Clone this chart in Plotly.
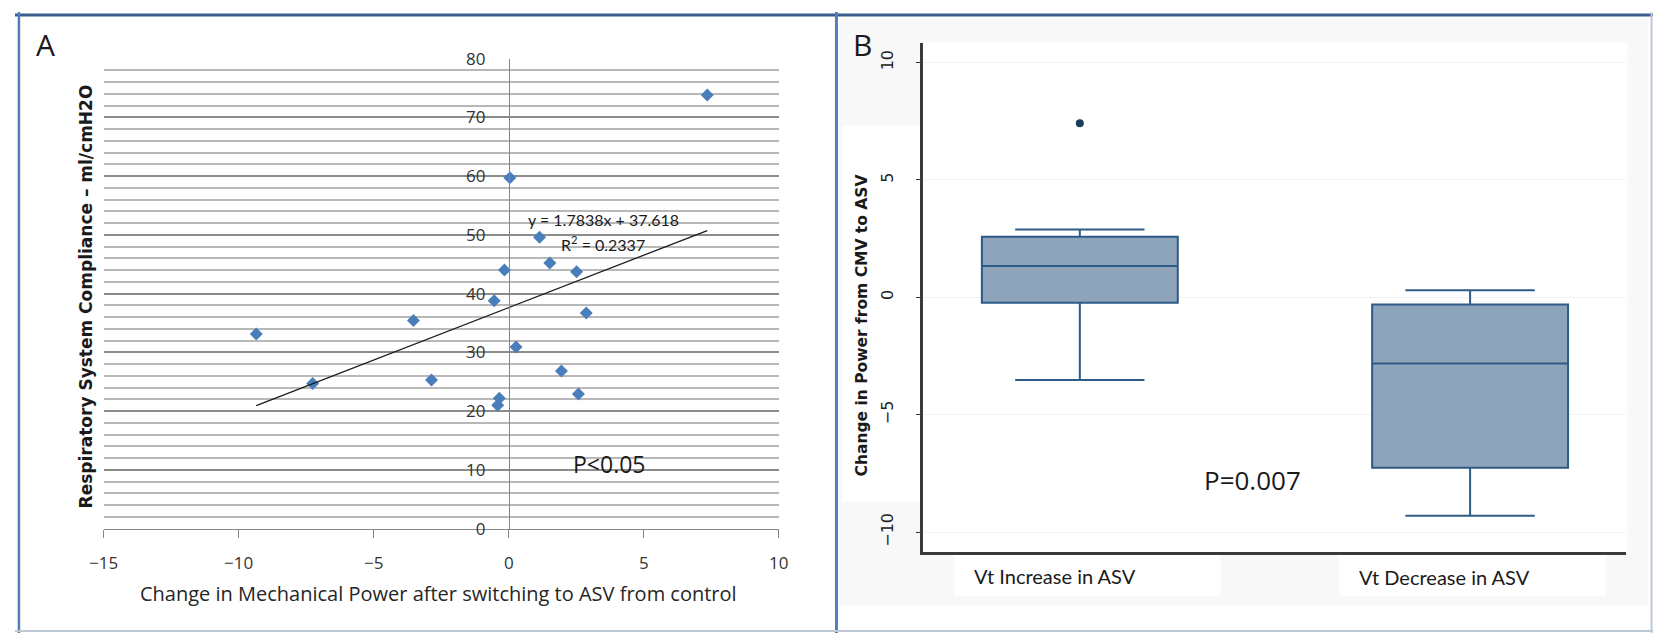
import plotly.graph_objects as go

# ---------------- Panel A data ----------------
power_change = [7.35, 0.04, 1.14, 1.52, -0.16, 2.51, -0.54, 2.87, -3.53, -9.35,
                0.27, 1.95, -7.26, -2.86, -0.35, -0.41, 2.58]
compliance = [73.8, 59.7, 49.6, 45.2, 44.0, 43.7, 38.8, 36.7, 35.4, 33.1,
              30.9, 26.8, 24.7, 25.3, 22.2, 21.0, 22.9]
trend_slope = 1.7838
trend_intercept = 37.618
r_squared = 0.2337
a_xticks = [-15, -10, -5, 0, 5, 10]
a_yticks = [0, 10, 20, 30, 40, 50, 60, 70, 80]

# ---------------- Panel B data ----------------
groups = ["Vt Increase in ASV", "Vt Decrease in ASV"]
group_pos = [1, 2]
q1 = [-0.23, -7.25]
median = [1.34, -2.81]
q3 = [2.58, -0.30]
lower_fence = [-3.52, -9.30]
upper_fence = [2.89, 0.30]
outlier_pos = [1]
outlier_val = [7.41]
b_yticks = [-10, -5, 0, 5, 10]

W, H = 1663, 644


def px(x):
    return x / W


def py(y):
    return 1 - y / H


fig = go.Figure()

# Panel A scatter
fig.add_trace(go.Scatter(
    x=power_change, y=compliance, mode="markers",
    marker=dict(symbol="diamond", size=10, color="#4A7EBB"),
    xaxis="x", yaxis="y", showlegend=False))

# trend line
tx = [min(power_change), max(power_change)]
ty = [trend_slope * v + trend_intercept for v in tx]
fig.add_trace(go.Scatter(
    x=tx, y=ty, mode="lines", line=dict(color="#1a1a1a", width=1.3),
    xaxis="x", yaxis="y", showlegend=False))

# Panel B boxes
fig.add_trace(go.Box(
    x=group_pos, q1=q1, median=median, q3=q3,
    lowerfence=lower_fence, upperfence=upper_fence,
    width=0.502, whiskerwidth=0.66, boxpoints=False,
    fillcolor="#8EA4BA", line=dict(color="#2E5A87", width=2),
    xaxis="x2", yaxis="y2", showlegend=False))

fig.add_trace(go.Scatter(
    x=outlier_pos, y=outlier_val, mode="markers",
    marker=dict(symbol="circle", size=8, color="#1E3C5E"),
    xaxis="x2", yaxis="y2", showlegend=False))

xa0, xa1 = px(90), px(775.5)
y_axis_pos = xa0 + (xa1 - xa0) * (0 - (-15)) / 25

lato = "Lato, 'Open Sans', sans-serif"
opens = "'Open Sans', Lato, sans-serif"
dejavu = "'DejaVu Sans', Verdana, sans-serif"

shapes = [
    # panel B background
    dict(type="rect", xref="paper", yref="paper", x0=px(837), x1=px(1658),
         y0=py(616), y1=py(6), fillcolor="#F8F8F8", line=dict(width=0), layer="below"),
    dict(type="rect", xref="paper", yref="paper", x0=px(921.4), x1=px(1637),
         y0=py(560), y1=py(31.7), fillcolor="#FFFFFF", line=dict(width=0), layer="below"),
    dict(type="rect", xref="paper", yref="paper", x0=px(840), x1=px(921.4),
         y0=py(508), y1=py(118), fillcolor="#FFFFFF", line=dict(width=0), layer="below"),
    dict(type="rect", xref="paper", yref="paper", x0=px(953), x1=px(1224),
         y0=py(605), y1=py(563), fillcolor="#FFFFFF", line=dict(width=0), layer="below"),
    dict(type="rect", xref="paper", yref="paper", x0=px(1344), x1=px(1615),
         y0=py(605), y1=py(563), fillcolor="#FFFFFF", line=dict(width=0), layer="below"),
    # borders
    dict(type="line", xref="paper", yref="paper", x0=0, x1=1, y0=py(3), y1=py(3),
         line=dict(color="#3B5E8C", width=3)),
    dict(type="line", xref="paper", yref="paper", x0=px(4), x1=px(4), y0=0, y1=1,
         line=dict(color="#4F7FBF", width=2.5)),
    dict(type="line", xref="paper", yref="paper", x0=px(834), x1=px(834), y0=0, y1=1,
         line=dict(color="#4F7FBF", width=3)),
    dict(type="line", xref="paper", yref="paper", x0=0, x1=1, y0=py(642), y1=py(642),
         line=dict(color="#BCC8D6", width=2)),
    dict(type="line", xref="paper", yref="paper", x0=px(1661.5), x1=px(1661.5), y0=0, y1=1,
         line=dict(color="#C0CAD6", width=2)),
]


def ann(text, x, y, size, family=lato, angle=0, bold=False, color="#1a1a1a"):
    return dict(text=("<b>%s</b>" % text) if bold else text,
                x=px(x), y=py(y), xref="paper", yref="paper",
                showarrow=False, xanchor="center", yanchor="middle",
                textangle=angle, font=dict(family=family, size=size, color=color))


annotations = [
    ann("A", 30.5, 34, 30, opens),
    ann("B", 860, 34, 30, opens),
    ann("y = 1.7838x + 37.618", 597.5, 215, 16),
    ann("R<sup>2</sup> = %.4f" % r_squared, 597, 240, 16),
    ann("P&lt;0.05", 603, 469, 23, opens),
    ann("Change in Mechanical Power after switching to ASV from control", 430, 603, 20, opens,
        color="#262626"),
    ann("Respiratory System Compliance – ml/cmH2O", 72.5, 294.5, 17, dejavu, -90, True),
    ann("P=0.007", 1256, 485, 26, opens),
    ann(groups[0], 1056, 585, 20),
    ann(groups[1], 1451, 586, 20),
    ann("Change in Power from CMV to ASV", 860, 325, 15.5, dejavu, -90, True),
]

fig.update_layout(
    width=W, height=H, margin=dict(l=0, r=0, t=0, b=0),
    paper_bgcolor="white", plot_bgcolor="rgba(0,0,0,0)",
    showlegend=False,
    xaxis=dict(domain=[xa0, xa1], range=[-15, 10], tickvals=a_xticks,
               showline=True, linecolor="#868686", linewidth=1,
               ticks="outside", ticklen=8, tickcolor="#868686",
               ticklabelstandoff=11,
               showgrid=False, zeroline=False, anchor="y",
               tickfont=dict(family=opens, size=17, color="#333333")),
    yaxis=dict(domain=[py(535.7), py(48.3)], range=[0, 80], tickvals=a_yticks,
               anchor="free", position=y_axis_pos,
               showline=True, linecolor="#868686", linewidth=1, ticks="",
               ticklabelstandoff=20,
               showgrid=True, gridcolor="#8C8C8C", gridwidth=1.5,
               minor=dict(dtick=2, showgrid=True, gridcolor="#B8B8B8", gridwidth=1.5),
               zeroline=False,
               tickfont=dict(family=opens, size=17, color="#333333")),
    xaxis2=dict(domain=[px(921.4), px(1636)], range=[0.597, 2.4005],
                showline=True, linecolor="#3A3A3A", linewidth=2.5,
                showticklabels=False, ticks="", showgrid=False, zeroline=False,
                anchor="y2"),
    yaxis2=dict(domain=[py(560), py(31.7)], range=[-10.84, 10.85], tickvals=b_yticks,
                tickangle=-90, showline=True, linecolor="#3A3A3A", linewidth=2.5,
                ticks="outside", ticklen=4, tickcolor="#333333",
                ticklabelstandoff=16,
                showgrid=True, gridcolor="#F2F2F2", zeroline=False, anchor="x2",
                tickfont=dict(family=dejavu, size=16, color="#222222")),
    shapes=shapes,
    annotations=annotations,
)

fig.write_html("out.html")
